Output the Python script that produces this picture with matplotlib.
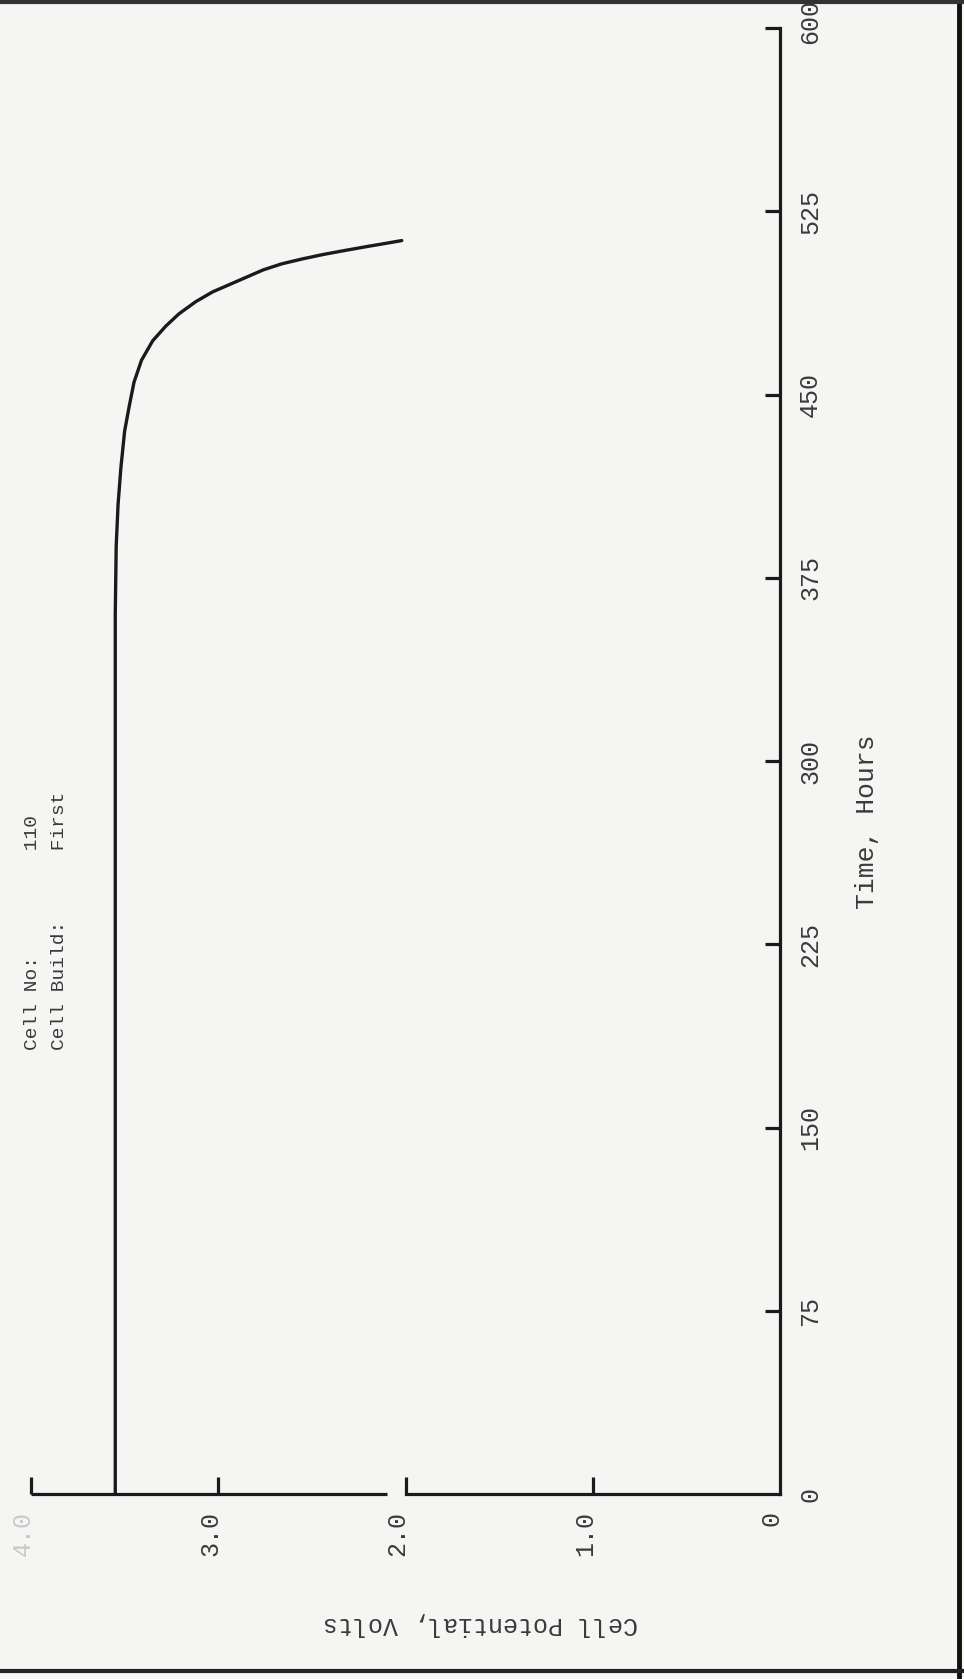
"""Cell potential vs time, cell 110 (rotated scan layout)."""

import matplotlib

matplotlib.use("Agg")
import matplotlib.pyplot as plt
from matplotlib.lines import Line2D
from matplotlib.transforms import ScaledTranslation

# discharge curve
time_h = [0, 150, 300, 360, 388, 405, 420, 435, 445, 455, 464, 468, 472, 478, 483,
          488, 492, 495, 498, 501, 503.5, 505.5, 507.3, 509, 510.5, 511.8, 513]
volts = [3.55, 3.55, 3.55, 3.55, 3.545, 3.535, 3.52, 3.50, 3.476, 3.45, 3.41, 3.38,
         3.35, 3.28, 3.21, 3.12, 3.03, 2.94, 2.85, 2.76, 2.66, 2.55, 2.44, 2.32,
         2.21, 2.11, 2.02]

time_ticks = [0, 75, 150, 225, 300, 375, 450, 525, 600]
time_labels = ["0", "75", "150", "225", "300", "375", "450", "525", "600"]
volt_ticks = [4.0, 3.0, 2.0, 1.0, 0.0]
volt_labels = ["4.0", "3.0", "2.0", "1.0", "0"]

FONT = "Liberation Mono"
INK = "#1a1a1a"
TXT = "#3a3a3a"
W, H = 964, 1679

fig = plt.figure(figsize=(W / 100, H / 100), dpi=100, facecolor="#f5f5f3")
ax = fig.add_axes([31 / W, 1 - 1494 / H, (780 - 31) / W, (1494 - 28) / H])
ax.set_facecolor("none")
ax.set_xlim(4.0, 0.0)
ax.set_ylim(0, 600)

ax.plot(volts, time_h, color=INK, lw=2.4, solid_capstyle="round",
        solid_joinstyle="round")

# axes: voltage along the bottom, time along the right
for s in ("top", "left"):
    ax.spines[s].set_visible(False)
ax.spines["right"].set_linewidth(2.3)
ax.spines["right"].set_color(INK)
ax.spines["bottom"].set_linewidth(2.3)
ax.spines["bottom"].set_color(INK)
ax.spines["bottom"].set_bounds(2.0, 0.0)
ax.hlines(0, 4.0, 2.1, color=INK, lw=2.3, clip_on=False)

ax.yaxis.tick_right()
ax.set_yticks(time_ticks)
ax.set_yticklabels(time_labels, rotation=90, va="center", fontfamily=FONT,
                   fontsize=18, color=TXT)
ax.tick_params(axis="y", direction="in", length=11, width=2.3, color=INK, pad=13)
up = ScaledTranslation(0, 6 / 100, fig.dpi_scale_trans)
ax.get_yticklabels()[-1].set_transform(ax.get_yticklabels()[-1].get_transform() + up)

ax.set_xticks(volt_ticks)
ax.set_xticklabels(volt_labels, rotation=90, ha="center", fontfamily=FONT,
                   fontsize=18, color=TXT)
ax.tick_params(axis="x", direction="in", length=12, width=2.3, color=INK, pad=12)
shift = ScaledTranslation(-8 / 100, 0, fig.dpi_scale_trans)
for lab in ax.get_xticklabels():
    lab.set_transform(lab.get_transform() + shift)
ax.get_xticklabels()[0].set_color("#c9c9c9")
ax.xaxis.get_major_ticks()[-1].tick1line.set_visible(False)
ax.yaxis.get_major_ticks()[0].tick2line.set_visible(False)

ax.set_ylabel("Time, Hours", fontfamily=FONT, fontsize=19, color=TXT,
              rotation=90, labelpad=0)
ax.yaxis.set_label_position("right")
ax.yaxis.set_label_coords(855 / W, 1 - 822 / H, transform=fig.transFigure)
ax.set_xlabel("Cell Potential, Volts", fontfamily=FONT, fontsize=18, color=TXT,
              rotation=180)
ax.xaxis.set_label_coords(480 / W, 1 - 1612 / H, transform=fig.transFigure)

fig.text(33 / W, 1 - 1050 / H, "Cell No:         110", rotation=90,
         ha="center", va="bottom", fontfamily=FONT, fontsize=14, color=TXT)
fig.text(60 / W, 1 - 1050 / H, "Cell Build:      First", rotation=90,
         ha="center", va="bottom", fontfamily=FONT, fontsize=14, color=TXT)

# page edges of the scan
fig.add_artist(Line2D([959 / W, 959 / W], [0, 1], transform=fig.transFigure,
                      color="#111111", lw=3.5))
fig.add_artist(Line2D([0, 1], [1 - 1671 / H, 1 - 1671 / H], transform=fig.transFigure,
                      color="#222222", lw=3))
fig.add_artist(Line2D([0, 1], [1 - 2 / H, 1 - 2 / H], transform=fig.transFigure,
                      color="#333333", lw=3))

fig.savefig("out.png", dpi=100, facecolor=fig.get_facecolor())
